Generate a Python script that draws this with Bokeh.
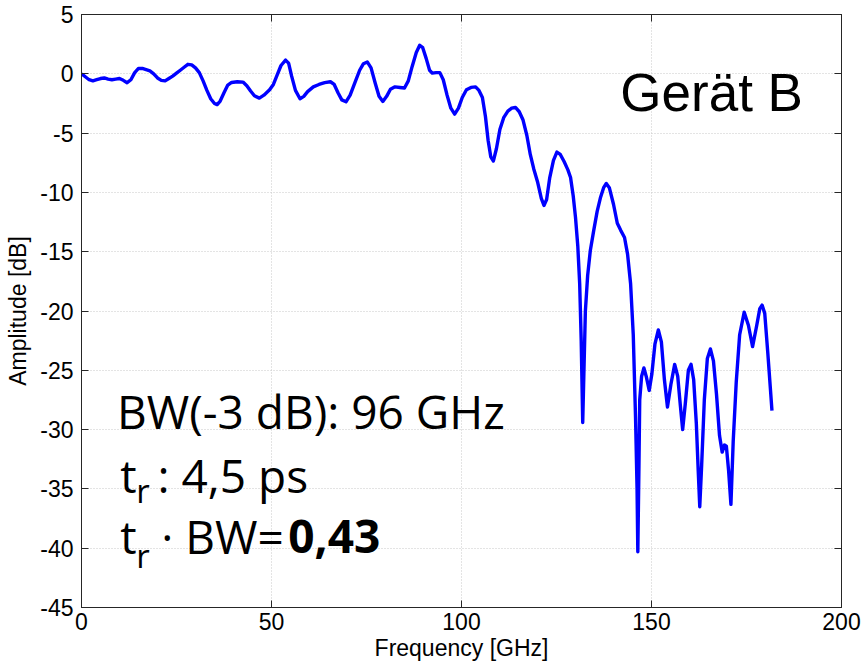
from bokeh.plotting import figure
from bokeh.models import Label, LinearAxis, FixedTicker, Range1d, PrintfTickFormatter
from bokeh.embed import file_html
from bokeh.resources import INLINE

# Frequency response of device B
freq = [0, 1, 2, 3, 4, 5, 6, 7, 8, 9, 10, 11, 12, 13, 14, 15, 16, 17, 18, 19,
        20, 21, 22, 23, 24, 25, 26, 27, 28, 29, 30, 31, 32, 33, 34, 35, 35.7,
        36.5, 37.5, 38.5, 39.5, 41, 42.5, 43.5, 44.5, 45.5, 46.8, 48, 49.5,
        50.5, 51.5, 52.5, 53.7, 54.5, 55.3, 56.3, 57.5, 58.5, 59.5, 61, 62.5,
        64, 65.5, 66.5, 67.5, 68.5, 69.6, 70.7, 72, 73.2, 74.2, 75.2, 76.2,
        77.3, 78.3, 79.3, 80.3, 81.3, 82.5, 83.8, 85, 86, 87, 88.1, 89.0, 89.8,
        90.7, 91.6, 92.3, 93.3, 94.3, 95.2, 96.2, 97.2, 98.2, 99.2, 100.2,
        101.3, 102.5, 103.7, 104.6, 105.5, 106.3, 107.0, 107.7, 108.4, 109.2,
        110.1, 111.1, 112.2, 113.2, 114.2, 115.2, 116.2, 117.2, 118.1, 119.0,
        120.0, 121.0, 121.7, 122.4, 123.2, 124.2, 125.1, 126.0, 127.0, 128.0,
        128.7, 129.4, 130.0, 130.6, 131.1, 131.5, 131.9, 132.3, 132.6, 133.2,
        133.9, 134.8, 135.7, 136.6, 137.4, 138.1, 138.9, 140.0, 141.0, 141.9,
        142.9, 143.7, 144.5, 145.2, 145.8, 146.2, 146.4, 146.7, 146.9, 147.4,
        148.0, 148.6, 149.4, 150.1, 150.9, 151.8, 152.6, 153.4, 154.2, 155.1,
        156.1, 156.9, 157.6, 158.2, 158.9, 159.7, 160.4, 161.1, 161.8, 162.3,
        162.7, 163.2, 163.9, 164.7, 165.5, 166.3, 167.1, 167.9, 168.6, 169.2,
        169.7, 170.3, 170.9, 171.5, 172.3, 173.2, 174.4, 175.5, 176.6, 177.7,
        178.5, 179.1, 179.8, 180.6, 181.3, 181.7]
amp = [0.0, -0.25, -0.5, -0.6, -0.5, -0.4, -0.35, -0.45, -0.5, -0.45, -0.4,
       -0.55, -0.75, -0.5, 0.1, 0.45, 0.45, 0.35, 0.25, 0.0, -0.35, -0.55,
       -0.6, -0.4, -0.2, 0.05, 0.3, 0.55, 0.8, 0.75, 0.5, 0.1, -0.6, -1.4,
       -2.1, -2.5, -2.6, -2.3, -1.6, -0.95, -0.73, -0.67, -0.7, -1.0, -1.45,
       -1.85, -2.05, -1.8, -1.35, -0.9, -0.1, 0.7, 1.15, 0.9, -0.2, -1.4,
       -2.1, -1.9, -1.5, -1.1, -0.9, -0.75, -0.67, -0.9, -1.6, -2.2, -2.36,
       -1.8, -0.7, 0.3, 0.85, 1.0, 0.5, -0.8, -1.9, -2.33, -1.9, -1.3, -1.1,
       -1.15, -1.2, -0.6, 0.6, 1.8, 2.4, 2.2, 1.3, 0.3, 0.06, 0.1, 0.1, -0.5,
       -1.8, -2.9, -3.4, -2.9, -2.0, -1.35, -1.15, -1.1, -1.4, -2.0, -3.6,
       -5.6, -7.0, -7.35, -6.3, -4.7, -3.7, -3.15, -2.9, -2.84, -3.2, -3.9,
       -5.2, -6.8, -8.0, -9.1, -10.5, -11.1, -10.6, -8.8, -7.3, -6.6, -6.8,
       -7.4, -8.1, -8.74, -10.3, -12.1, -14.5, -17.7, -22.5, -29.4, -24.0,
       -20.0, -17.0, -14.9, -13.2, -11.6, -10.4, -9.6, -9.25, -9.6, -11.0,
       -12.6, -13.2, -13.8, -15.2, -17.7, -22.0, -29.0, -35.0, -40.3, -33.0,
       -27.5, -25.5, -24.8, -25.5, -26.7, -25.3, -22.8, -21.6, -22.6, -25.8,
       -28.1, -26.2, -24.5, -25.5, -28.0, -30.0, -27.8, -25.0, -24.5, -25.8,
       -29.5, -33.5, -36.5, -33.0, -27.5, -24.0, -23.2, -24.2, -27.0, -30.5,
       -31.9, -31.3, -31.4, -33.5, -36.3, -31.0, -26.0, -22.0, -20.1, -21.2,
       -23.0, -21.2, -19.8, -19.5, -20.2, -23.5, -26.6, -28.4]

x_ticks = [0, 50, 100, 150, 200]
y_ticks = [5, 0, -5, -10, -15, -20, -25, -30, -35, -40, -45]

AX_FONT = "Liberation Sans"
TXT_FONT = "Open Sans"

p = figure(width=867, height=667, output_backend="svg", toolbar_location=None,
           x_range=Range1d(0, 200), y_range=Range1d(-45, 5),
           x_axis_label="Frequency [GHz]", y_axis_label="Amplitude [dB]",
           min_border_left=81, min_border_right=26, min_border_top=14,
           min_border_bottom=60)
p.background_fill_color = "white"
p.border_fill_color = "white"
p.outline_line_color = "#262626"
p.outline_line_width = 1

for ax in (p.xaxis[0], p.yaxis[0]):
    ax.formatter = PrintfTickFormatter(format="%d")
    ax.major_label_text_font = AX_FONT
    ax.major_label_text_font_size = "23px"
    ax.major_label_text_color = "black"
    ax.axis_label_text_font = AX_FONT
    ax.axis_label_text_font_size = "23px"
    ax.axis_label_text_font_style = "normal"
    ax.axis_label_text_color = "black"
    ax.axis_line_color = "#262626"
    ax.major_tick_line_color = "#262626"
    ax.major_tick_in = 7
    ax.major_tick_out = 0
    ax.minor_tick_line_color = None
p.xaxis[0].ticker = FixedTicker(ticks=x_ticks)
p.yaxis[0].ticker = FixedTicker(ticks=y_ticks)
p.xaxis[0].major_label_standoff = 5
p.yaxis[0].major_label_standoff = 8
p.xaxis[0].axis_label_standoff = 2
p.yaxis[0].axis_label_standoff = 6

# mirrored ticks on the top and right edges
top = LinearAxis(ticker=FixedTicker(ticks=x_ticks), major_label_text_font_size="0px",
                 major_tick_in=7, major_tick_out=0, minor_tick_line_color=None,
                 axis_line_color="#262626", major_tick_line_color="#262626")
right = LinearAxis(ticker=FixedTicker(ticks=y_ticks), major_label_text_font_size="0px",
                   major_tick_in=7, major_tick_out=0, minor_tick_line_color=None,
                   axis_line_color="#262626", major_tick_line_color="#262626")
top.major_label_text_color = None
right.major_label_text_color = None
p.add_layout(top, "above")
p.add_layout(right, "right")

p.xgrid.ticker = FixedTicker(ticks=x_ticks)
p.ygrid.ticker = FixedTicker(ticks=y_ticks)
for g in (p.xgrid[0], p.ygrid[0]):
    g.grid_line_color = "#c8c8c8"
    g.grid_line_dash = "1 2"
    g.grid_line_width = 1

p.line(freq, amp, line_color="#0000ff", line_width=3.4, line_join="round")


def add_label(x, y, text, size, style="normal", font=TXT_FONT):
    p.add_layout(Label(x=x, y=y, text=text, text_font=font,
                       text_font_size=size, text_font_style=style,
                       text_color="black", text_baseline="alphabetic",
                       text_align="left"))


add_label(141.8, -1.57, "Gerät B", "53px", font=AX_FONT)

add_label(9.35, -28.45, "BW(-3 dB): 96 GHz", "46px")
add_label(10.2, -33.8, "t", "46px")
add_label(14.4, -35.17, "r", "33px")
add_label(20.0, -33.8, ": 4,5 ps", "46px")
add_label(10.2, -38.99, "t", "46px")
add_label(14.4, -40.63, "r", "33px")
add_label(21.0, -38.99, "· BW=", "46px")
add_label(54.4, -38.99, "0,43", "46px", style="bold")

open("out.html", "w").write(file_html(p, INLINE))
